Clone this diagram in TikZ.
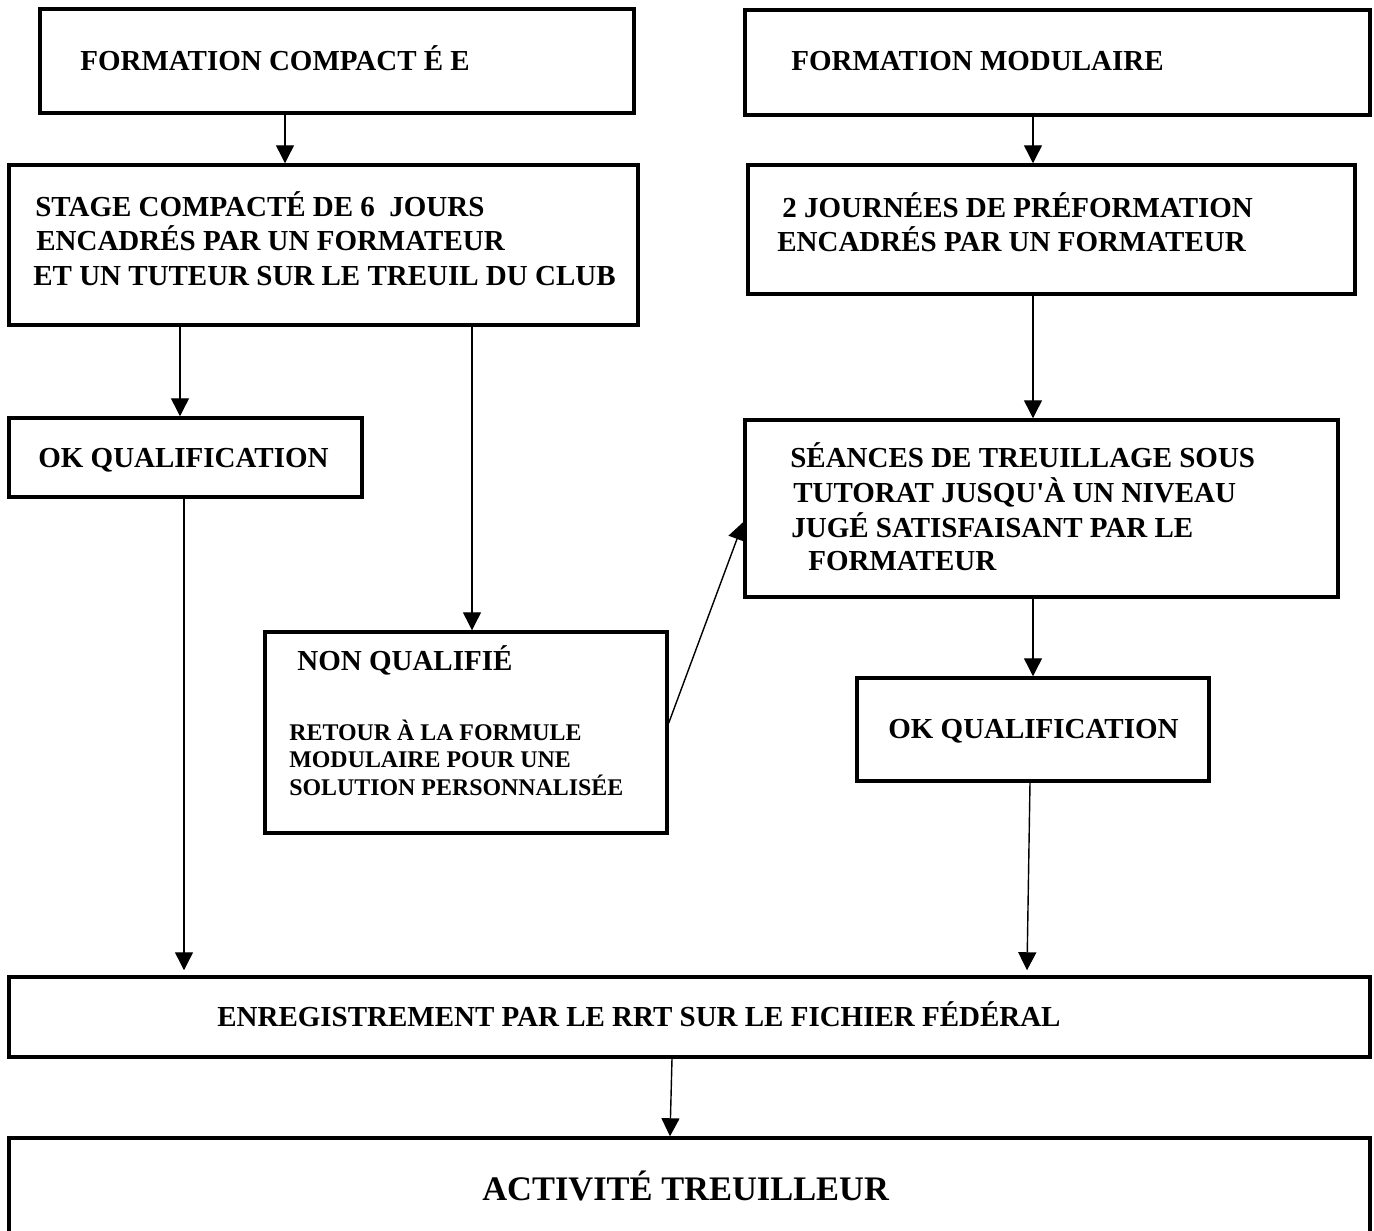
\documentclass[tikz,border=0pt]{standalone}
\usepackage{fontspec}
\setmainfont{Liberation Serif}
\usetikzlibrary{arrows.meta}
\begin{document}
\begin{tikzpicture}[x=0.02cm, y=-0.02cm,
    boite/.style={draw, rectangle, line width=2pt, inner sep=0pt},
    texte/.style={anchor=base west, inner sep=0pt, font=\bfseries\fontsize{16.5}{19.6}\selectfont},
    petit/.style={texte, font=\bfseries\fontsize{13.6}{15.6}\selectfont},
    grand/.style={texte, font=\bfseries\fontsize{19.6}{23}\selectfont},
    fleche/.style={line width=0.8pt, -{Triangle[length=0.36cm, width=0.36cm]}}]
        \useasboundingbox (0,0) rectangle (1374,1231);
        \clip (0,0) rectangle (1374,1231);
        %%%%%%%%%%%%%%%%%%%%%%%% Cadres %%%%%%%%%%%%%%%%%%%%%%%%%%%%%%%%%%%
        \node[boite, minimum width=11.88cm, minimum height=2.08cm] (compacte) at (337,61) {};
        \node[boite, minimum width=12.5cm, minimum height=2.1cm] (modulaire) at (1057.5,62.5) {};
        \node[boite, minimum width=12.58cm, minimum height=3.2cm] (stage) at (323.5,245) {};
        \node[boite, minimum width=12.14cm, minimum height=2.58cm] (journees) at (1051.5,229.5) {};
        \node[boite, minimum width=7.06cm, minimum height=1.58cm] (okgauche) at (185.5,457.5) {};
        \node[boite, minimum width=11.86cm, minimum height=3.54cm] (seances) at (1041.5,508.5) {};
        \node[boite, minimum width=8.04cm, minimum height=4.02cm] (nonqualif) at (466,732.5) {};
        \node[boite, minimum width=7.04cm, minimum height=2.06cm] (okdroite) at (1033,729.5) {};
        \node[boite, minimum width=27.22cm, minimum height=1.6cm] (enreg) at (689.5,1017) {};
        \node[boite, minimum width=27.22cm, minimum height=3.04cm] (activite) at (689.5,1214) {}; %Coupé en bas
        %%%%%%%%%%%%%%%%%%%%%%%% Textes %%%%%%%%%%%%%%%%%%%%%%%%%%%%%%%%%%%
        \node[texte] (compacteT) at (80,70) {FORMATION COMPACT É E};
        \node[texte] (modulaireT) at (791,70) {FORMATION MODULAIRE};
        \node[texte] (stageA) at (35,216) {STAGE COMPACTÉ DE 6 \ JOURS};
        \node[texte] (stageB) at (36,250) {ENCADRÉS PAR UN FORMATEUR};
        \node[texte] (stageC) at (33,285) {ET UN TUTEUR SUR LE TREUIL DU CLUB};
        \node[texte] (journeesA) at (782,217) {2 JOURNÉES DE PRÉFORMATION};
        \node[texte] (journeesB) at (777,251) {ENCADRÉS PAR UN FORMATEUR};
        \node[texte] (okgaucheT) at (38,467) {OK QUALIFICATION};
        \node[texte] (seancesA) at (790,467) {SÉANCES DE TREUILLAGE SOUS};
        \node[texte] (seancesB) at (793,502) {TUTORAT JUSQU\textquotesingle À UN NIVEAU};
        \node[texte] (seancesC) at (791,537) {JUGÉ SATISFAISANT PAR LE};
        \node[texte] (seancesD) at (808,570) {FORMATEUR};
        \node[texte] (nonqualifT) at (297,670) {NON QUALIFIÉ};
        \node[petit] (retourA) at (289,740) {RETOUR À LA FORMULE};
        \node[petit] (retourB) at (289,767) {MODULAIRE POUR UNE};
        \node[petit] (retourC) at (289,795) {SOLUTION PERSONNALISÉE};
        \node[texte] (okdroiteT) at (888,738) {OK QUALIFICATION};
        \node[texte] (enregT) at (217,1026) {ENREGISTREMENT PAR LE RRT SUR LE FICHIER FÉDÉRAL};
        \node[grand] (activiteT) at (482,1200) {ACTIVITÉ TREUILLEUR};
        %%%%%%%%%%%%%%%%%%%%%%%% Flèches %%%%%%%%%%%%%%%%%%%%%%%%%%%%%%%%%%
        \draw[fleche] (compacte.south -| 285,0) -- (stage.north -| 285,0);
        \draw[fleche] (modulaire.south -| 1033,0) -- (journees.north -| 1033,0);
        \draw[fleche] (stage.south -| 180,0) -- (okgauche.north -| 180,0);
        \draw[fleche] (stage.south -| 472,0) -- (nonqualif.north -| 472,0);
        \draw[fleche] (journees.south -| 1033,0) -- (seances.north -| 1033,0);
        \draw[fleche] (nonqualif.east |- 0,723) -- (seances.west |- 0,522); %Retour vers le modulaire
        \draw[fleche] (seances.south -| 1033,0) -- (okdroite.north -| 1033,0);
        \draw[fleche] (okgauche.south -| 184,0) -- ([yshift=0.1cm]enreg.north -| 184,0);
        \draw[fleche] (okdroite.south -| 1030,0) -- ([yshift=0.1cm]enreg.north -| 1027,0);
        \draw[fleche] (enreg.south -| 672,0) -- (activite.north -| 670,0);
\end{tikzpicture}
\end{document}
